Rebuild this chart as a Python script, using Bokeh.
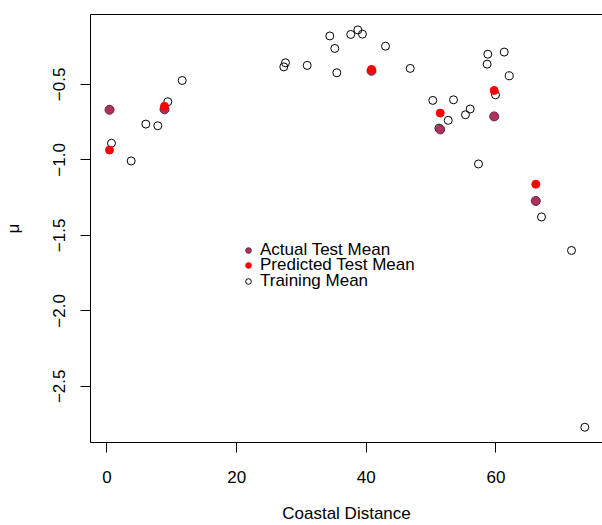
from bokeh.plotting import figure
from bokeh.models import Range1d, LinearAxis, FixedTicker, Legend, LegendItem
from bokeh.embed import file_html
from bokeh.resources import INLINE

# ---- data ----
train_x = [0.69, 3.73, 5.99, 7.84, 9.38, 11.6, 27.27, 27.53, 30.88, 34.37, 35.14,
           35.45, 37.6, 38.69, 39.4, 42.96, 46.77, 50.25, 53.45, 52.63, 51.2, 55.3,
           56.02, 57.3, 58.74, 58.64, 61.27, 62.04, 59.93, 67.02, 71.65, 73.7]
train_y = [-0.890, -1.007, -0.763, -0.774, -0.615, -0.474, -0.384, -0.357, -0.374,
           -0.179, -0.262, -0.423, -0.169, -0.139, -0.167, -0.247, -0.394, -0.606,
           -0.602, -0.738, -0.790, -0.701, -0.663, -1.027, -0.300, -0.366, -0.286,
           -0.443, -0.569, -1.378, -1.600, -2.771]

test_x = [0.39, 8.87, 40.8, 51.4, 59.72, 66.14]
actual_y = [-0.668, -0.665, -0.410, -0.798, -0.712, -1.272]
pred_y = [-0.935, -0.645, -0.401, -0.690, -0.540, -1.161]

x_ticks = [0, 20, 40, 60]
y_ticks = [-2.5, -2.0, -1.5, -1.0, -0.5]
y_tick_labels = ["\u22122.5", "\u22122.0", "\u22121.5", "\u22121.0", "\u22120.5"]
legend_labels = ["Actual Test Mean", "Predicted Test Mean", "Training Mean"]
x_label = "Coastal Distance"
y_label = "\u03bc"

FONT = "Liberation Sans"
X_START, X_END = -2.545, 76.43
Y_START, Y_END = -2.872, -0.037

p = figure(width=602, height=525, output_backend="svg", toolbar_location=None,
           x_range=Range1d(X_START, X_END), y_range=Range1d(Y_START, Y_END),
           min_border_left=90, min_border_right=0, min_border_top=14,
           min_border_bottom=82)
p.grid.visible = False
p.outline_line_color = None
p.background_fill_color = "white"
p.border_fill_color = "white"

for ax in (p.xaxis[0], p.yaxis[0]):
    ax.axis_line_color = "black"
    ax.axis_line_width = 1
    ax.major_tick_line_color = "black"
    ax.major_tick_in = 0
    ax.major_tick_out = 10
    ax.minor_tick_line_color = None
    ax.major_label_text_font = FONT
    ax.major_label_text_font_size = "17px"
    ax.major_label_text_color = "black"
    ax.axis_label_text_font = FONT
    ax.axis_label_text_font_size = "17px"
    ax.axis_label_text_font_style = "normal"
    ax.axis_label_text_color = "black"

p.xaxis.ticker = FixedTicker(ticks=x_ticks)
p.yaxis.ticker = FixedTicker(ticks=y_ticks)
p.yaxis.major_label_overrides = {t: l for t, l in zip(y_ticks, y_tick_labels)}
p.yaxis.major_label_orientation = "vertical"
p.xaxis.major_label_standoff = 18
p.yaxis.major_label_standoff = 15
p.xaxis.axis_label = x_label
p.xaxis.axis_label_standoff = 18
p.yaxis.axis_label = y_label
p.yaxis.axis_label_standoff = 28

top = LinearAxis(ticker=FixedTicker(ticks=[]), major_tick_out=0, minor_tick_out=0,
                 major_label_text_font_size="0px", major_label_standoff=0,
                 axis_line_color="black", axis_line_width=1)
p.add_layout(top, "above")

r_train = p.scatter(train_x, train_y, size=8, fill_color=None, line_color="black",
                    line_width=1)
r_act = p.scatter(test_x, actual_y, size=9, fill_color="#B03060",
                  line_color="#5e2a40", line_width=1)
r_pred = p.scatter(test_x, pred_y, size=8, fill_color="red", line_color="red",
                   line_width=1)

# one legend per row, to match R's tight row spacing
legend_rows = [(legend_labels[0], r_act, 182),
               (legend_labels[1], r_pred, 167),
               (legend_labels[2], r_train, 151)]
for lab, rend, ypos in legend_rows:
    lg = Legend(items=[LegendItem(label=lab, renderers=[rend])],
                location=(150, ypos), padding=0, margin=0, spacing=0,
                glyph_width=16, glyph_height=14, label_height=16, label_standoff=4,
                label_text_font=FONT, label_text_font_size="17px",
                label_text_color="black",
                background_fill_alpha=0, border_line_color=None)
    p.add_layout(lg)

open("out.html", "w").write(file_html(p, INLINE))
